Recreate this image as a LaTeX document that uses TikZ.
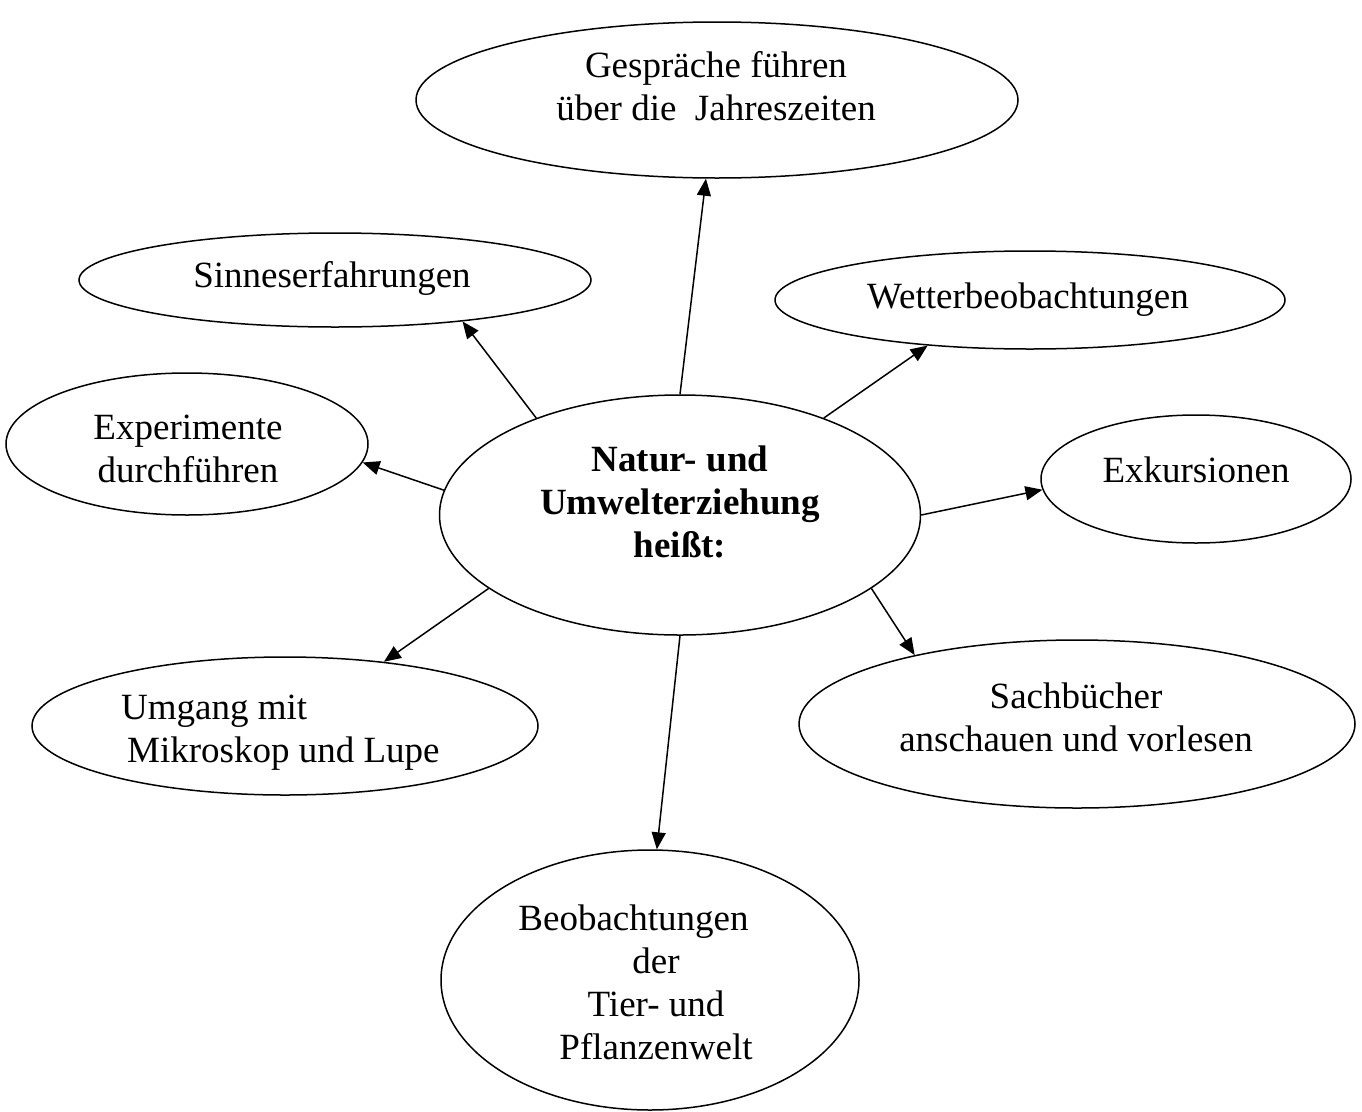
\documentclass[tikz,border=0pt]{standalone}
\usepackage{fontspec}
\setmainfont{Liberation Serif}
\usetikzlibrary{arrows.meta,shapes.geometric}

\begin{document}
\begin{tikzpicture}[x=1pt,y=-1pt,
    oval/.style={draw,ellipse,line width=1.5pt,inner sep=0pt},
    txt/.style={align=center,inner sep=0pt,font=\fontsize{37}{43}\selectfont},
    pfeil/.style={draw,-{Triangle[length=17pt,width=14pt]},line width=1.5pt}]
  \useasboundingbox (0,0) rectangle (1362,1111);
  % Mitte
  \node[oval,minimum width=481pt,minimum height=240pt] (mitte) at (680,515) {};
  \node[txt,font=\fontsize{37}{43}\selectfont\bfseries] (mitte-t) at (680,502) {Natur- und\\Umwelterziehung\\heißt:};
  % Ovale rundherum
  \node[oval,minimum width=602pt,minimum height=156pt] (gespraech) at (717,100) {};
  \node[txt] (gespraech-t) at (716,86) {Gespräche führen\\über die\ \ Jahreszeiten};
  \node[oval,minimum width=512pt,minimum height=94pt] (sinne) at (335,280) {};
  \node[txt] (sinne-t) at (332,278) {Sinneserfahrungen};
  \node[oval,minimum width=510pt,minimum height=98pt] (wetter) at (1030,300) {};
  \node[txt] (wetter-t) at (1028,300) {Wetterbeobachtungen};
  \node[oval,minimum width=362pt,minimum height=142pt] (experim) at (187,444) {};
  \node[txt] (experim-t) at (188,449) {Experimente\\durchführen};
  \node[oval,minimum width=310pt,minimum height=128pt] (exkurs) at (1196,479) {};
  \node[txt] (exkurs-t) at (1196,470) {Exkursionen};
  \node[oval,minimum width=506pt,minimum height=138pt] (umgang) at (285,726) {};
  \node[txt,align=left,anchor=west] (umgang-t) at (121,733) {Umgang mit\\\hspace*{6pt}Mikroskop und Lupe};
  \node[oval,minimum width=556pt,minimum height=168pt] (sachb) at (1077,724) {};
  \node[txt] (sachb-t) at (1076,717) {Sachbücher\\anschauen und vorlesen};
  \node[oval,minimum width=418pt,minimum height=260pt] (beob) at (650,980) {};
  \node[txt] (beob-t) at (656,982) {Beobachtungen\hspace*{45pt}\\der\\Tier- und\\Pflanzenwelt};
  % Pfeile
  \path
    (mitte.90) edge[pfeil] (gespraech.-98)
    (mitte.146) edge[pfeil] (sinne.-18)
    (mitte.34) edge[pfeil] (wetter.-156)
    (mitte.174) edge[pfeil] (experim.-6)
    (mitte.0) edge[pfeil] (exkurs.184)
    (mitte.-159) edge[pfeil] (umgang.33)
    (mitte.-21) edge[pfeil] (sachb.157)
    (mitte.-90) edge[pfeil] (beob.87);
\end{tikzpicture}
\end{document}
